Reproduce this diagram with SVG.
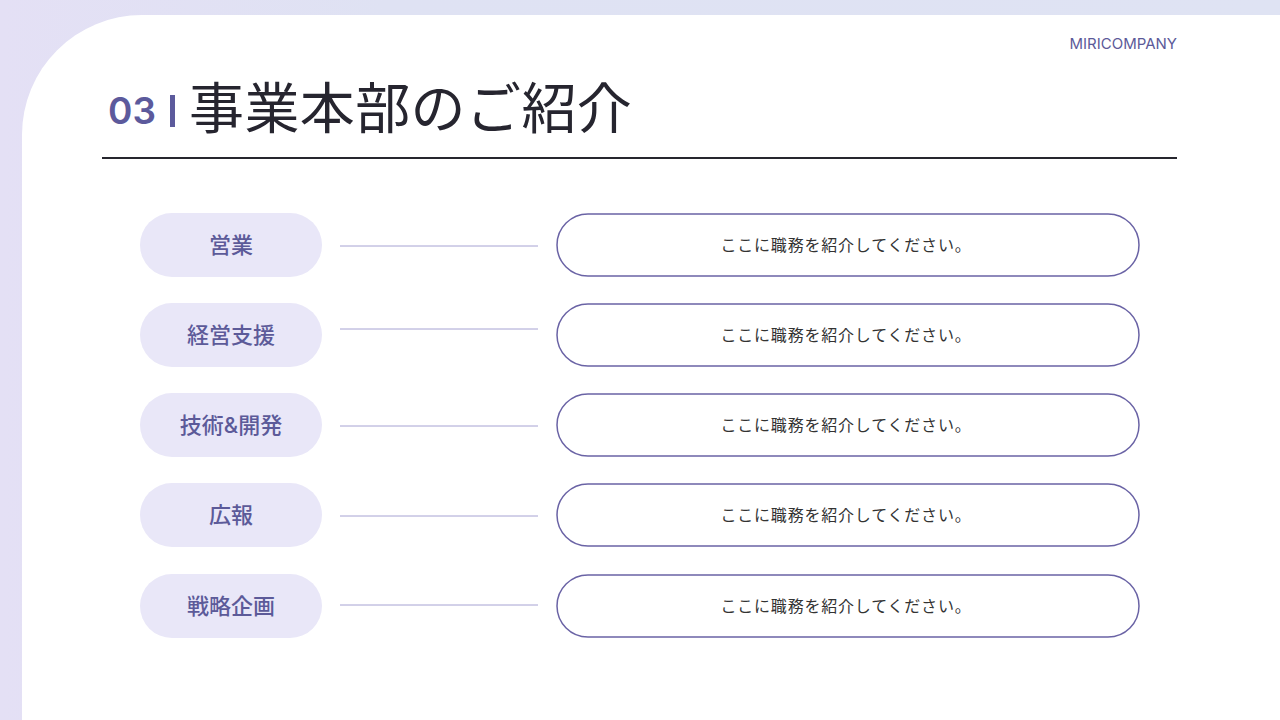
<svg xmlns="http://www.w3.org/2000/svg" width="1280" height="720" viewBox="0 0 1280 720">
<defs>
<linearGradient id="bg" x1="0" y1="0" x2="1" y2="0">
<stop offset="0" stop-color="#e4e0f5"/>
<stop offset="0.3" stop-color="#dfe2f3"/>
<stop offset="1" stop-color="#dfe3f3"/>
</linearGradient>
<style>
.jp{font-family:Inter,"Noto Sans CJK JP",sans-serif}
.lp{fill:#e9e7f8}
.lt{font-family:Inter,"Noto Sans CJK JP",sans-serif;font-size:22px;font-weight:500;fill:#5c5a99;text-anchor:middle}
.rp{fill:#ffffff;stroke:#6a63a5;stroke-width:1.5}
.rt{font-family:Inter,"Noto Sans CJK JP",sans-serif;font-size:16px;letter-spacing:0.8px;fill:#333333;text-anchor:middle}
.cn{stroke:#a6a2d2;stroke-width:1}
</style>
</defs>
<rect width="1280" height="720" fill="url(#bg)"/>
<path d="M22 720 V135 A120 120 0 0 1 142 15 H1280 V720 Z" fill="#ffffff"/>
<text x="1177" y="49" class="jp" font-size="15" fill="#5c5a99" text-anchor="end">MIRICOMPANY</text>
<text x="108" y="124" class="jp" font-size="37" font-weight="600" fill="#5c5a9c">03</text>
<rect x="170" y="95" width="5" height="32" fill="#5c5a9c"/>
<text x="189" y="128" class="jp" font-size="55" letter-spacing="0.4" fill="#26252f">事業本部のご紹介</text>
<line x1="102" y1="158" x2="1177" y2="158" stroke="#26262e" stroke-width="2"/>
<g id="connectors">
<line class="cn" x1="340" y1="246" x2="538" y2="246"/>
<line class="cn" x1="340" y1="329" x2="538" y2="329"/>
<line class="cn" x1="340" y1="426" x2="538" y2="426"/>
<line class="cn" x1="340" y1="516" x2="538" y2="516"/>
<line class="cn" x1="340" y1="605" x2="538" y2="605"/>
</g>
<g id="n1"><rect class="lp" x="140" y="213" width="182" height="64" rx="32"/><text class="lt" x="231" y="253">営業</text></g>
<g id="n2"><rect class="lp" x="140" y="303" width="182" height="64" rx="32"/><text class="lt" x="231" y="343">経営支援</text></g>
<g id="n3"><rect class="lp" x="140" y="393" width="182" height="64" rx="32"/><text class="lt" x="231" y="433">技術&amp;開発</text></g>
<g id="n4"><rect class="lp" x="140" y="483" width="182" height="64" rx="32"/><text class="lt" x="231" y="523">広報</text></g>
<g id="n5"><rect class="lp" x="140" y="574" width="182" height="64" rx="32"/><text class="lt" x="231" y="614">戦略企画</text></g>
<g id="d1"><rect class="rp" x="557" y="214" width="582" height="62" rx="31"/><text class="rt" x="846" y="251">ここに職務を紹介してください。</text></g>
<g id="d2"><rect class="rp" x="557" y="304" width="582" height="62" rx="31"/><text class="rt" x="846" y="341">ここに職務を紹介してください。</text></g>
<g id="d3"><rect class="rp" x="557" y="394" width="582" height="62" rx="31"/><text class="rt" x="846" y="431">ここに職務を紹介してください。</text></g>
<g id="d4"><rect class="rp" x="557" y="484" width="582" height="62" rx="31"/><text class="rt" x="846" y="521">ここに職務を紹介してください。</text></g>
<g id="d5"><rect class="rp" x="557" y="575" width="582" height="62" rx="31"/><text class="rt" x="846" y="612">ここに職務を紹介してください。</text></g>
</svg>
